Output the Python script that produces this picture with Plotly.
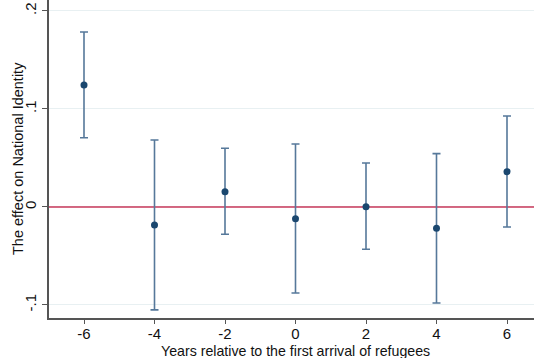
import plotly.graph_objects as go

years = [-6, -4, -2, 0, 2, 4, 6]
estimate = [0.1245, -0.0184, 0.0156, -0.0119, 0.0003, -0.0218, 0.0360]
ci_upper = [0.1786, 0.0684, 0.0599, 0.0643, 0.0449, 0.0544, 0.0929]
ci_lower = [0.0707, -0.1050, -0.0279, -0.0878, -0.0432, -0.0980, -0.0204]

x_ticks = [-6, -4, -2, 0, 2, 4, 6]
x_ticktext = ["-6", "-4", "-2", "0", "2", "4", "6"]
y_tickvals = [-0.1, 0, 0.1, 0.2]
y_ticktext = ["-.1", "0", ".1", ".2"]
reference_level = 0

x_range = [-6.993, 6.766]
y_range = [-0.1133, 0.2112]

err_plus = [u - e for u, e in zip(ci_upper, estimate)]
err_minus = [e - l for e, l in zip(estimate, ci_lower)]

fig = go.Figure()
fig.add_trace(go.Scatter(
    x=x_range, y=[reference_level, reference_level], mode="lines",
    line=dict(color="#c8385a", width=1.6), showlegend=False, hoverinfo="skip",
))
fig.add_trace(go.Scatter(
    x=years, y=estimate, mode="markers",
    marker=dict(color="#1a476f", size=7),
    error_y=dict(type="data", symmetric=False, array=err_plus, arrayminus=err_minus,
                 color="#56789a", thickness=1.6, width=4),
    showlegend=False,
))

font = "Liberation Sans, Arial, sans-serif"
fs = 14.5
fig.update_layout(
    width=534, height=358,
    margin=dict(l=49, r=0, t=0, b=40),
    paper_bgcolor="white", plot_bgcolor="white",
    font=dict(family=font, size=fs, color="#111"),
    xaxis=dict(
        range=x_range, tickvals=x_ticks, ticktext=x_ticktext,
        ticks="outside", ticklen=4,
        tickcolor="#555", showline=True, linecolor="#555", linewidth=1.5,
        showgrid=False, zeroline=False, tickfont=dict(size=15),
        ticklabelstandoff=-3,
    ),
    yaxis=dict(
        range=y_range, tickvals=y_tickvals, ticktext=y_ticktext,
        tickangle=-90, ticks="outside", ticklen=5, tickcolor="#555",
        showline=True, linecolor="#555", linewidth=1.5,
        showgrid=True, gridcolor="#e8f0f2", gridwidth=1, zeroline=False,
        tickfont=dict(size=15),
    ),
    annotations=[
        dict(text="Years relative to the first arrival of refugees",
             xref="x", x=0, yref="paper", y=0, yshift=-33, yanchor="middle",
             xanchor="center", showarrow=False, font=dict(size=14.2)),
        dict(text="The effect on National Identity", textangle=-90,
             xref="paper", x=0, xshift=-31, xanchor="center",
             yref="paper", y=0.5, yanchor="middle",
             showarrow=False, font=dict(size=fs)),
    ],
)
fig.write_html("out.html")
